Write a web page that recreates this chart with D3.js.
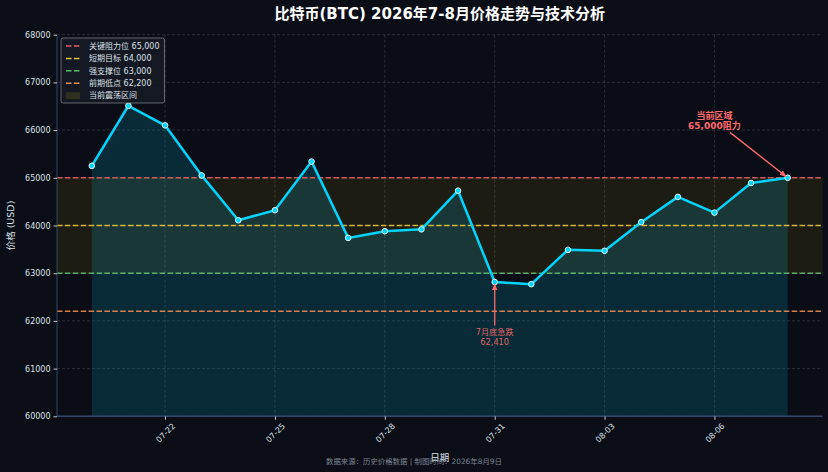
<!DOCTYPE html>
<html>
<head>
<meta charset="utf-8">
<script src="https://cdn.jsdelivr.net/npm/d3@7"></script>
<style>
  html, body { margin: 0; padding: 0; background: #0b0e17; }
  svg { display: block; font-family: "DejaVu Sans", "Noto Sans CJK SC", sans-serif; }
</style>
</head>
<body>
<svg id="chart" width="828" height="472"></svg>
<script>
// Daily closing prices, 2026-07-20 .. 2026-08-08
const dates = [
  "2026-07-20", "2026-07-21", "2026-07-22", "2026-07-23", "2026-07-24",
  "2026-07-25", "2026-07-26", "2026-07-27", "2026-07-28", "2026-07-29",
  "2026-07-30", "2026-07-31", "2026-08-01", "2026-08-02", "2026-08-03",
  "2026-08-04", "2026-08-05", "2026-08-06", "2026-08-07", "2026-08-08"
];
const prices = [
  65250, 66510, 66100, 65050, 64110,
  64320, 65340, 63740, 63880, 63920,
  64730, 62815, 62770, 63490, 63470,
  64070, 64600, 64270, 64890, 65000
];

// Axis ticks
const xTickDates = ["2026-07-22", "2026-07-25", "2026-07-28", "2026-07-31", "2026-08-03", "2026-08-06"];
const yTicks = [60000, 61000, 62000, 63000, 64000, 65000, 66000, 67000, 68000];
const yDomain = [60000, 68000];

// Technical levels
const levelValues = [65000, 64000, 63000, 62200];
const levelLabels = ["关键阻力位 65,000", "短期目标 64,000", "强支撑位 63,000", "前期低点 62,200"];
const bandRange = [63000, 65000];
const bandLabel = "当前震荡区间";

// Annotations (anchor in data units)
const noteTexts = [["当前区域", "65,000阻力"], ["7月底急跌", "62,410"]];
const noteDates = ["2026-08-08", "2026-07-31"];
const noteValues = [65000, 62815];
const noteTextDates = ["2026-08-06", "2026-07-31"];
const noteTextValues = [66200, 61660];

const titleText = "比特币(BTC) 2026年7-8月价格走势与技术分析";
const footText = "数据来源：历史价格数据 | 制图时间：2026年8月9日";

// Styles
const levelColors = ["#e35f5f", "#e8c53a", "#5fbf6a", "#ee8a4c"];
const lineColor = "#00d4ff";
const noteColor = "#ff6b6b";

const parseDate = d3.timeParse("%Y-%m-%d");
const data = dates.map((d, i) => ({ date: parseDate(d), price: prices[i] }));

const svg = d3.select("#chart");
const width = 828, height = 472;
const margin = { top: 34.7, right: 5.5, bottom: 55.7, left: 57 };

svg.append("rect").attr("width", width).attr("height", height).attr("fill", "#0b0e17");

// x domain padded like matplotlib's 5% margin
const ext = d3.extent(data, d => d.date);
const pad = (ext[1] - ext[0]) * 0.05;
const x = d3.scaleTime()
  .domain([new Date(+ext[0] - pad), new Date(+ext[1] + pad)])
  .range([margin.left, width - margin.right]);

const y = d3.scaleLinear()
  .domain(yDomain)
  .range([height - margin.bottom, margin.top]);

const plot = svg.append("g");

// Axes background
plot.append("rect")
  .attr("x", margin.left).attr("y", margin.top)
  .attr("width", width - margin.left - margin.right)
  .attr("height", height - margin.top - margin.bottom)
  .attr("fill", "#0a0d15");

// Grid
plot.append("g")
  .selectAll("line")
  .data(yTicks)
  .join("line")
  .attr("x1", margin.left).attr("x2", width - margin.right)
  .attr("y1", d => y(d)).attr("y2", d => y(d))
  .attr("stroke", "#9aa0aa").attr("stroke-opacity", 0.28)
  .attr("stroke-width", 0.8).attr("stroke-dasharray", "3,2");

plot.append("g")
  .selectAll("line")
  .data(xTickDates.map(parseDate))
  .join("line")
  .attr("x1", d => x(d)).attr("x2", d => x(d))
  .attr("y1", margin.top).attr("y2", height - margin.bottom)
  .attr("stroke", "#9aa0aa").attr("stroke-opacity", 0.28)
  .attr("stroke-width", 0.8).attr("stroke-dasharray", "3,2");

// Consolidation band
plot.append("rect")
  .attr("x", margin.left)
  .attr("width", width - margin.left - margin.right)
  .attr("y", y(bandRange[1]))
  .attr("height", y(bandRange[0]) - y(bandRange[1]))
  .attr("fill", "#ffd700").attr("fill-opacity", 0.08);

// Area under price line
const area = d3.area()
  .x(d => x(d.date))
  .y0(y(yDomain[0]))
  .y1(d => y(d.price));

plot.append("path")
  .datum(data)
  .attr("fill", lineColor).attr("fill-opacity", 0.15)
  .attr("d", area);

// Level lines
plot.append("g")
  .selectAll("line")
  .data(levelValues)
  .join("line")
  .attr("x1", margin.left).attr("x2", width - margin.right)
  .attr("y1", d => y(d)).attr("y2", d => y(d))
  .attr("stroke", (d, i) => levelColors[i])
  .attr("stroke-width", 1.5)
  .attr("stroke-dasharray", "5.5,2.4")
  .attr("stroke-opacity", 0.9);

// Price line
const line = d3.line()
  .x(d => x(d.date))
  .y(d => y(d.price));

plot.append("path")
  .datum(data)
  .attr("fill", "none")
  .attr("stroke", lineColor)
  .attr("stroke-width", 2.5)
  .attr("stroke-linejoin", "round")
  .attr("d", line);

plot.append("g")
  .selectAll("circle")
  .data(data)
  .join("circle")
  .attr("cx", d => x(d.date))
  .attr("cy", d => y(d.price))
  .attr("r", 2.8)
  .attr("fill", lineColor)
  .attr("stroke", "#e8fbff")
  .attr("stroke-width", 1);

// Spines
const axisColor = "#34466a";
plot.append("line")
  .attr("x1", margin.left).attr("x2", margin.left)
  .attr("y1", margin.top).attr("y2", height - margin.bottom)
  .attr("stroke", axisColor).attr("stroke-width", 1);
plot.append("line")
  .attr("x1", margin.left).attr("x2", width - margin.right)
  .attr("y1", height - margin.bottom).attr("y2", height - margin.bottom)
  .attr("stroke", axisColor).attr("stroke-width", 1.5);

// Y axis ticks
const yAxis = svg.append("g")
  .attr("transform", `translate(${margin.left},0)`)
  .call(d3.axisLeft(y).tickValues(yTicks).tickSize(3.5).tickPadding(3).tickFormat(d3.format("d")));
yAxis.select(".domain").remove();
yAxis.selectAll(".tick line").attr("stroke", "#bfc5cf");
yAxis.selectAll(".tick text")
  .attr("fill", "#dde1e8")
  .style("font-size", "8px")
  .style("font-family", "DejaVu Sans, Noto Sans CJK SC, sans-serif");

// X axis ticks
const xAxis = svg.append("g")
  .attr("transform", `translate(0,${height - margin.bottom})`)
  .call(d3.axisBottom(x).tickValues(xTickDates.map(parseDate)).tickSize(3.5).tickFormat(d3.timeFormat("%m-%d")));
xAxis.select(".domain").remove();
xAxis.selectAll(".tick line").attr("stroke", "#bfc5cf");
xAxis.selectAll(".tick text")
  .attr("fill", "#dde1e8")
  .attr("y", 0).attr("dy", "0.35em")
  .attr("text-anchor", "middle")
  .attr("transform", "translate(0,16.5) rotate(-45)")
  .style("font-size", "8px")
  .style("font-family", "DejaVu Sans, Noto Sans CJK SC, sans-serif");

// Axis labels
svg.append("text")
  .attr("x", (margin.left + width - margin.right) / 2)
  .attr("y", 461)
  .attr("text-anchor", "middle")
  .attr("fill", "#dde1e8")
  .style("font-size", "9.5px")
  .text("日期");

svg.append("text")
  .attr("transform", `translate(14,${(margin.top + height - margin.bottom) / 2}) rotate(-90)`)
  .attr("text-anchor", "middle")
  .attr("fill", "#dde1e8")
  .style("font-size", "9.5px")
  .text("价格 (USD)");

// Title
svg.append("text")
  .attr("x", (margin.left + width - margin.right) / 2)
  .attr("y", 19)
  .attr("text-anchor", "middle")
  .attr("fill", "#ffffff")
  .style("font-size", "15px")
  .style("font-weight", "bold")
  .text(titleText);

// Footer
svg.append("text")
  .attr("x", 414)
  .attr("y", 464)
  .attr("text-anchor", "middle")
  .attr("fill", "#7d8592")
  .style("font-size", "7.4px")
  .text(footText);

// Annotations
const defs = svg.append("defs");
defs.append("marker")
  .attr("id", "arrowhead")
  .attr("viewBox", "0 0 10 10")
  .attr("refX", 9).attr("refY", 5)
  .attr("markerWidth", 5).attr("markerHeight", 5)
  .attr("orient", "auto")
  .append("path")
  .attr("d", "M0,1 L10,5 L0,9 Z")
  .attr("fill", noteColor);

noteTexts.forEach((lines, i) => {
  const tx = x(parseDate(noteTextDates[i]));
  const ty = y(noteTextValues[i]);
  const px = x(parseDate(noteDates[i]));
  const py = y(noteValues[i]);
  const bold = i === 0;

  const g = svg.append("g");
  const t = g.append("text")
    .attr("text-anchor", "middle")
    .attr("fill", noteColor)
    .attr("fill-opacity", bold ? 1 : 0.9)
    .style("font-size", bold ? "9px" : "8.2px")
    .style("font-weight", bold ? "bold" : "normal");
  lines.forEach((s, k) => {
    t.append("tspan")
      .attr("x", tx)
      .attr("y", ty + (k - (lines.length - 1) / 2) * 10.2)
      .attr("dy", "0.35em")
      .text(s);
  });

  // start arrow at the edge of the text block
  const bb = t.node().getBBox();
  const dx = px - tx, dy = py - ty;
  const hw = bb.width / 2 + 1.5, hh = bb.height / 2 + 1.5;
  const cy = bb.y + bb.height / 2;
  const s = Math.min(dx !== 0 ? hw / Math.abs(dx) : Infinity, dy !== 0 ? hh / Math.abs(dy) : Infinity);
  const len = Math.hypot(dx, dy);
  const x1 = tx + dx * s, y1 = cy + (py - cy) * s;
  const x2 = px - dx / len * 2, y2 = py - (py - cy) / Math.hypot(dx, py - cy) * 2;

  g.append("line")
    .attr("x1", x1).attr("y1", y1)
    .attr("x2", x2).attr("y2", y2)
    .attr("stroke", noteColor)
    .attr("stroke-opacity", bold ? 1 : 0.9)
    .attr("stroke-width", 1.4)
    .attr("marker-end", "url(#arrowhead)");
});

// Legend
const legend = svg.append("g").attr("transform", "translate(61,38)");
legend.append("rect")
  .attr("width", 103.5).attr("height", 65)
  .attr("rx", 2)
  .attr("fill", "#151a26").attr("fill-opacity", 0.88)
  .attr("stroke", "#9aa0aa").attr("stroke-opacity", 0.75)
  .attr("stroke-width", 0.8);

const rowY = i => 8 + i * 12.4;
levelLabels.forEach((label, i) => {
  legend.append("line")
    .attr("x1", 5).attr("x2", 19)
    .attr("y1", rowY(i)).attr("y2", rowY(i))
    .attr("stroke", levelColors[i])
    .attr("stroke-width", 1.5)
    .attr("stroke-dasharray", "5.5,2.4");
  legend.append("text")
    .attr("x", 28).attr("y", rowY(i)).attr("dy", "0.35em")
    .attr("fill", "#dde1e8")
    .style("font-size", "8px")
    .text(label);
});
legend.append("rect")
  .attr("x", 5).attr("y", rowY(4) - 3.5)
  .attr("width", 14).attr("height", 7)
  .attr("fill", "#ffd700").attr("fill-opacity", 0.12);
legend.append("text")
  .attr("x", 28).attr("y", rowY(4)).attr("dy", "0.35em")
  .attr("fill", "#dde1e8")
  .style("font-size", "8px")
  .text(bandLabel);
</script>
</body>
</html>
